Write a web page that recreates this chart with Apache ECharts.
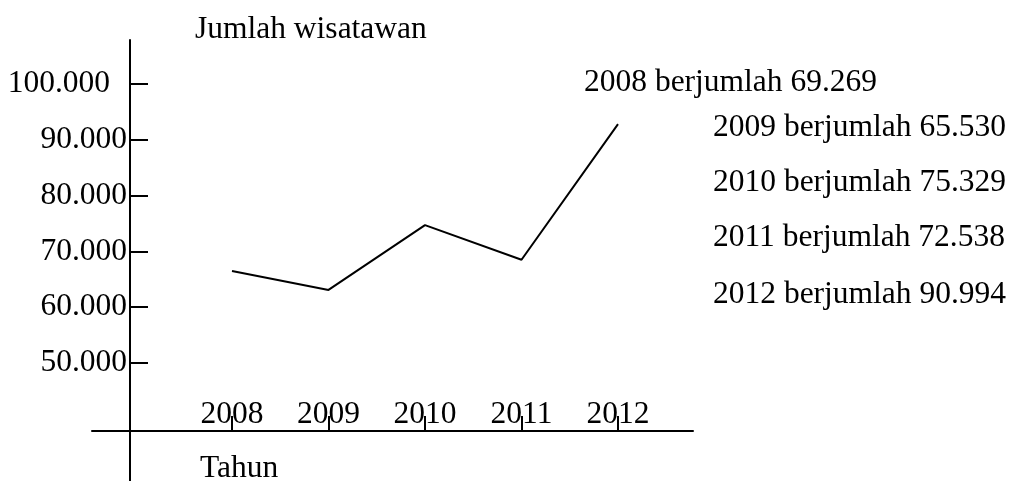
<!DOCTYPE html>
<html>
<head>
<meta charset="utf-8">
<script src="https://cdn.jsdelivr.net/npm/echarts@6/dist/echarts.min.js"></script>
<style>
  html, body { margin: 0; padding: 0; background: #fff; }
  #chart { width: 1012px; height: 481px; }
</style>
</head>
<body>
<div id="chart"></div>
<script>
// tahun (sumbu x)
const years = ['2008', '2009', '2010', '2011', '2012']
// nilai seperti yang digambar pada garis
const drawnValues = [66500, 63100, 74700, 68500, 92800]
// nilai yang tertulis di keterangan kanan
const statedValues = [69269, 65530, 75329, 72538, 90994]
// sumbu y
const yMin = 50000
const yMax = 100000
const yStep = 10000

const font = 'Liberation Serif'
const fs = 31.5

function fmt(v) {
  return String(v).replace(/\B(?=(\d{3})+(?!\d))/g, '.')
}

// posisi keterangan kanan
const notePos = [[584, 67], [713, 112], [713, 167], [713, 222], [713, 279]]

const titles = [
  { text: 'Jumlah wisatawan', left: 195, top: 14 },
  { text: 'Tahun', left: 200, top: 453 }
]
years.forEach((y, i) => {
  titles.push({ text: y + ' berjumlah ' + fmt(statedValues[i]), left: notePos[i][0], top: notePos[i][1] })
})
titles.forEach(t => {
  t.padding = 0
  t.textStyle = { fontFamily: font, fontSize: fs, fontWeight: 'normal', color: '#000' }
})

const chart = echarts.init(document.getElementById('chart'))

const option = {
  animation: false,
  backgroundColor: '#fff',
  title: titles,
  grid: [
    // grid data
    { left: 232, right: 394, top: 84, bottom: 118 },
    // garis sumbu y panjang
    { left: 130, top: 40, bottom: 0, width: 10 },
    // garis sumbu x panjang
    { left: 92, right: 319, bottom: 50, height: 10 }
  ],
  xAxis: [
    {
      gridIndex: 0,
      type: 'category',
      data: years,
      boundaryGap: false,
      offset: 68,
      axisLine: { show: false },
      axisTick: { show: true, inside: true, length: 15, lineStyle: { color: '#000', width: 2 } },
      axisLabel: { inside: true, margin: 0, interval: 0, fontFamily: font, fontSize: fs, color: '#000' },
      splitLine: { show: false }
    },
    { gridIndex: 1, type: 'value', min: 0, max: 1, show: false },
    {
      gridIndex: 2,
      type: 'value',
      min: 0,
      max: 1,
      axisLine: { show: true, lineStyle: { color: '#000', width: 2 } },
      axisTick: { show: false },
      axisLabel: { show: false },
      splitLine: { show: false }
    }
  ],
  yAxis: [
    {
      gridIndex: 0,
      type: 'value',
      min: yMin,
      max: yMax,
      interval: yStep,
      offset: 102,
      axisLine: { show: false },
      axisTick: { show: true, inside: true, length: 18, lineStyle: { color: '#000', width: 2 } },
      axisLabel: {
        margin: 3,
        fontFamily: font,
        fontSize: fs,
        color: '#000',
        formatter: v => v === yMax ? '{gap|' + fmt(v) + '}' : fmt(v),
        rich: { gap: { fontFamily: font, fontSize: fs, color: '#000', padding: [0, 17, 0, 0] } }
      },
      splitLine: { show: false }
    },
    {
      gridIndex: 1,
      type: 'value',
      min: 0,
      max: 1,
      axisLine: { show: true, lineStyle: { color: '#000', width: 2 } },
      axisTick: { show: false },
      axisLabel: { show: false },
      splitLine: { show: false }
    },
    { gridIndex: 2, type: 'value', min: 0, max: 1, show: false }
  ],
  series: [
    {
      type: 'line',
      xAxisIndex: 0,
      yAxisIndex: 0,
      data: drawnValues,
      showSymbol: false,
      lineStyle: { color: '#000', width: 2 }
    }
  ]
}

chart.setOption(option)
</script>
</body>
</html>
